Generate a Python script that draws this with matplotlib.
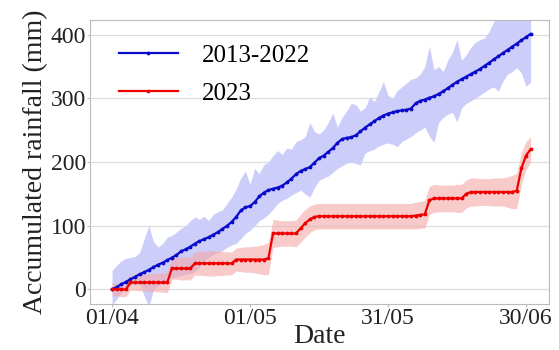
import numpy as np
import pandas as pd
import matplotlib
matplotlib.use("Agg")
import matplotlib.pyplot as plt
import matplotlib.dates as mdates

plt.rcParams['font.family'] = ['Liberation Serif', 'DejaVu Serif']

# daily values, 01/04 .. 01/07
dates = pd.date_range("2023-04-01", periods=92, freq="D")

clim_mean = [0, 4, 8, 12, 16, 20, 24, 27, 31, 35,
             39, 42, 46, 50, 54, 60, 63, 67, 72, 76,
             79, 82, 86, 90, 95, 100, 106, 114, 124, 129,
             131, 137, 146, 152, 156, 158, 160, 163, 168, 174,
             181, 186, 189, 192, 199, 206, 210, 216, 222, 230,
             236, 238, 239, 242, 248, 254, 259, 264, 269, 273,
             276, 278, 280, 281, 282, 284, 292, 296, 298, 301,
             303, 307, 311, 316, 321, 326, 330, 334, 338, 342,
             346, 351, 356, 361, 366, 371, 376, 381, 386, 391,
             396, 401]
clim_high = [30, 38, 45, 49, 50, 52, 58, 80, 100, 75,
             67, 72, 82, 85, 90, 96, 100, 108, 114, 110,
             115, 108, 118, 122, 125, 135, 145, 158, 175, 186,
             165, 190, 182, 196, 200, 210, 218, 212, 222, 220,
             232, 235, 240, 262, 248, 244, 250, 262, 277, 255,
             270, 280, 292, 290, 280, 285, 302, 295, 310, 326,
             305, 300, 312, 318, 324, 330, 332, 338, 350, 382,
             345, 350, 342, 360, 372, 392, 360, 368, 380, 388,
             392, 395, 405, 421, 430, 425, 440, 432, 445, 438,
             440, 430]
clim_low = [-25, -15, -5, 5, 8, 8, 9, -10, -28, 0,
            6, 10, 14, 18, 20, 22, 24, 25, 28, 35,
            45, 50, 55, 58, 61, 66, 70, 72, 80, 88,
            93, 100, 108, 112, 118, 126, 135, 140, 143, 148,
            152, 156, 150, 145, 160, 171, 175, 178, 184, 190,
            194, 198, 200, 198, 195, 214, 218, 220, 225, 228,
            230, 228, 224, 232, 236, 240, 246, 250, 255, 240,
            231, 262, 270, 275, 278, 263, 285, 292, 296, 300,
            305, 310, 315, 318, 311, 327, 338, 342, 348, 340,
            319, 325]

y2023_mean = [0, 0, 0, 0, 11, 11, 11, 11, 11, 11,
              11, 11, 11, 33, 33, 33, 33, 33, 41, 41,
              41, 41, 41, 41, 41, 41, 41, 47, 47, 47,
              47, 47, 47, 47, 49, 88, 88, 88, 88, 88,
              88, 96, 104, 110, 114, 115, 115, 115, 115, 115,
              115, 115, 115, 115, 115, 115, 115, 115, 115, 115,
              115, 115, 115, 115, 115, 115, 116, 117, 118, 140,
              143, 143, 143, 143, 143, 143, 143, 150, 153, 153,
              153, 153, 153, 153, 153, 153, 153, 153, 155, 190,
              210, 220]
y2023_err = [10, 10, 11, 11, 12, 12, 13, 13, 14, 14,
             15, 15, 16, 17, 17, 18, 18, 18, 18, 19,
             19, 20, 20, 19, 19, 18, 18, 18, 19, 20,
             20, 21, 22, 24, 25, 22, 21, 20, 20, 20,
             21, 22, 22, 21, 20, 20, 20, 20, 20, 20,
             20, 20, 20, 20, 20, 20, 20, 20, 20, 20,
             20, 20, 20, 20, 20, 20, 21, 21, 22, 22,
             22, 21, 21, 21, 21, 22, 22, 22, 22, 22,
             21, 21, 21, 22, 22, 22, 24, 26, 28, 25,
             22, 20]

xtick_dates = ["2023-04-01", "2023-05-01", "2023-05-31", "2023-06-30"]

fig = plt.figure(figsize=(5.59, 3.5), dpi=100)
ax = fig.add_axes([0.161, 0.131, 0.821, 0.812])

blue = "#0a0acc"
red = "#ee0000"
m = np.array(y2023_mean)
e = np.array(y2023_err)

ax.fill_between(dates, clim_low, clim_high, color="#cdcdfa", lw=0)
ax.fill_between(dates, m - e, m + e, color="#f5a8a8", alpha=0.6, lw=0)
ax.plot(dates, clim_mean, color=blue, lw=1.6, marker=".", ms=3.5, label="2013-2022")
ax.plot(dates, y2023_mean, color=red, lw=1.6, marker=".", ms=3.5, label="2023")

ax.set_ylim(-23, 423)
ax.set_yticks([0, 100, 200, 300, 400])
ax.set_xlim(dates[0] - pd.Timedelta(days=4.8), dates[0] + pd.Timedelta(days=95))
ax.set_xticks(pd.to_datetime(xtick_dates))
ax.xaxis.set_major_formatter(mdates.DateFormatter("%d/%m"))

ax.grid(axis="y", color="#dddddd", lw=0.9)
ax.set_axisbelow(True)
for s in ax.spines.values():
    s.set_color("#bbbbbb")
ax.tick_params(colors="#222222", labelsize=17, length=2, color="#bbbbbb", pad=1)

ax.set_xlabel("Date", fontsize=20, color="#222222", labelpad=-4)
ax.set_ylabel("Accumulated rainfall (mm)", fontsize=20, color="#222222", labelpad=2)

ax.legend(loc="upper left", frameon=False, fontsize=18, handlelength=2.35,
          borderaxespad=0.3, labelspacing=0.62, handletextpad=0.95,
          bbox_to_anchor=(0.025, 0.975))

fig.savefig("out.png", dpi=100)
